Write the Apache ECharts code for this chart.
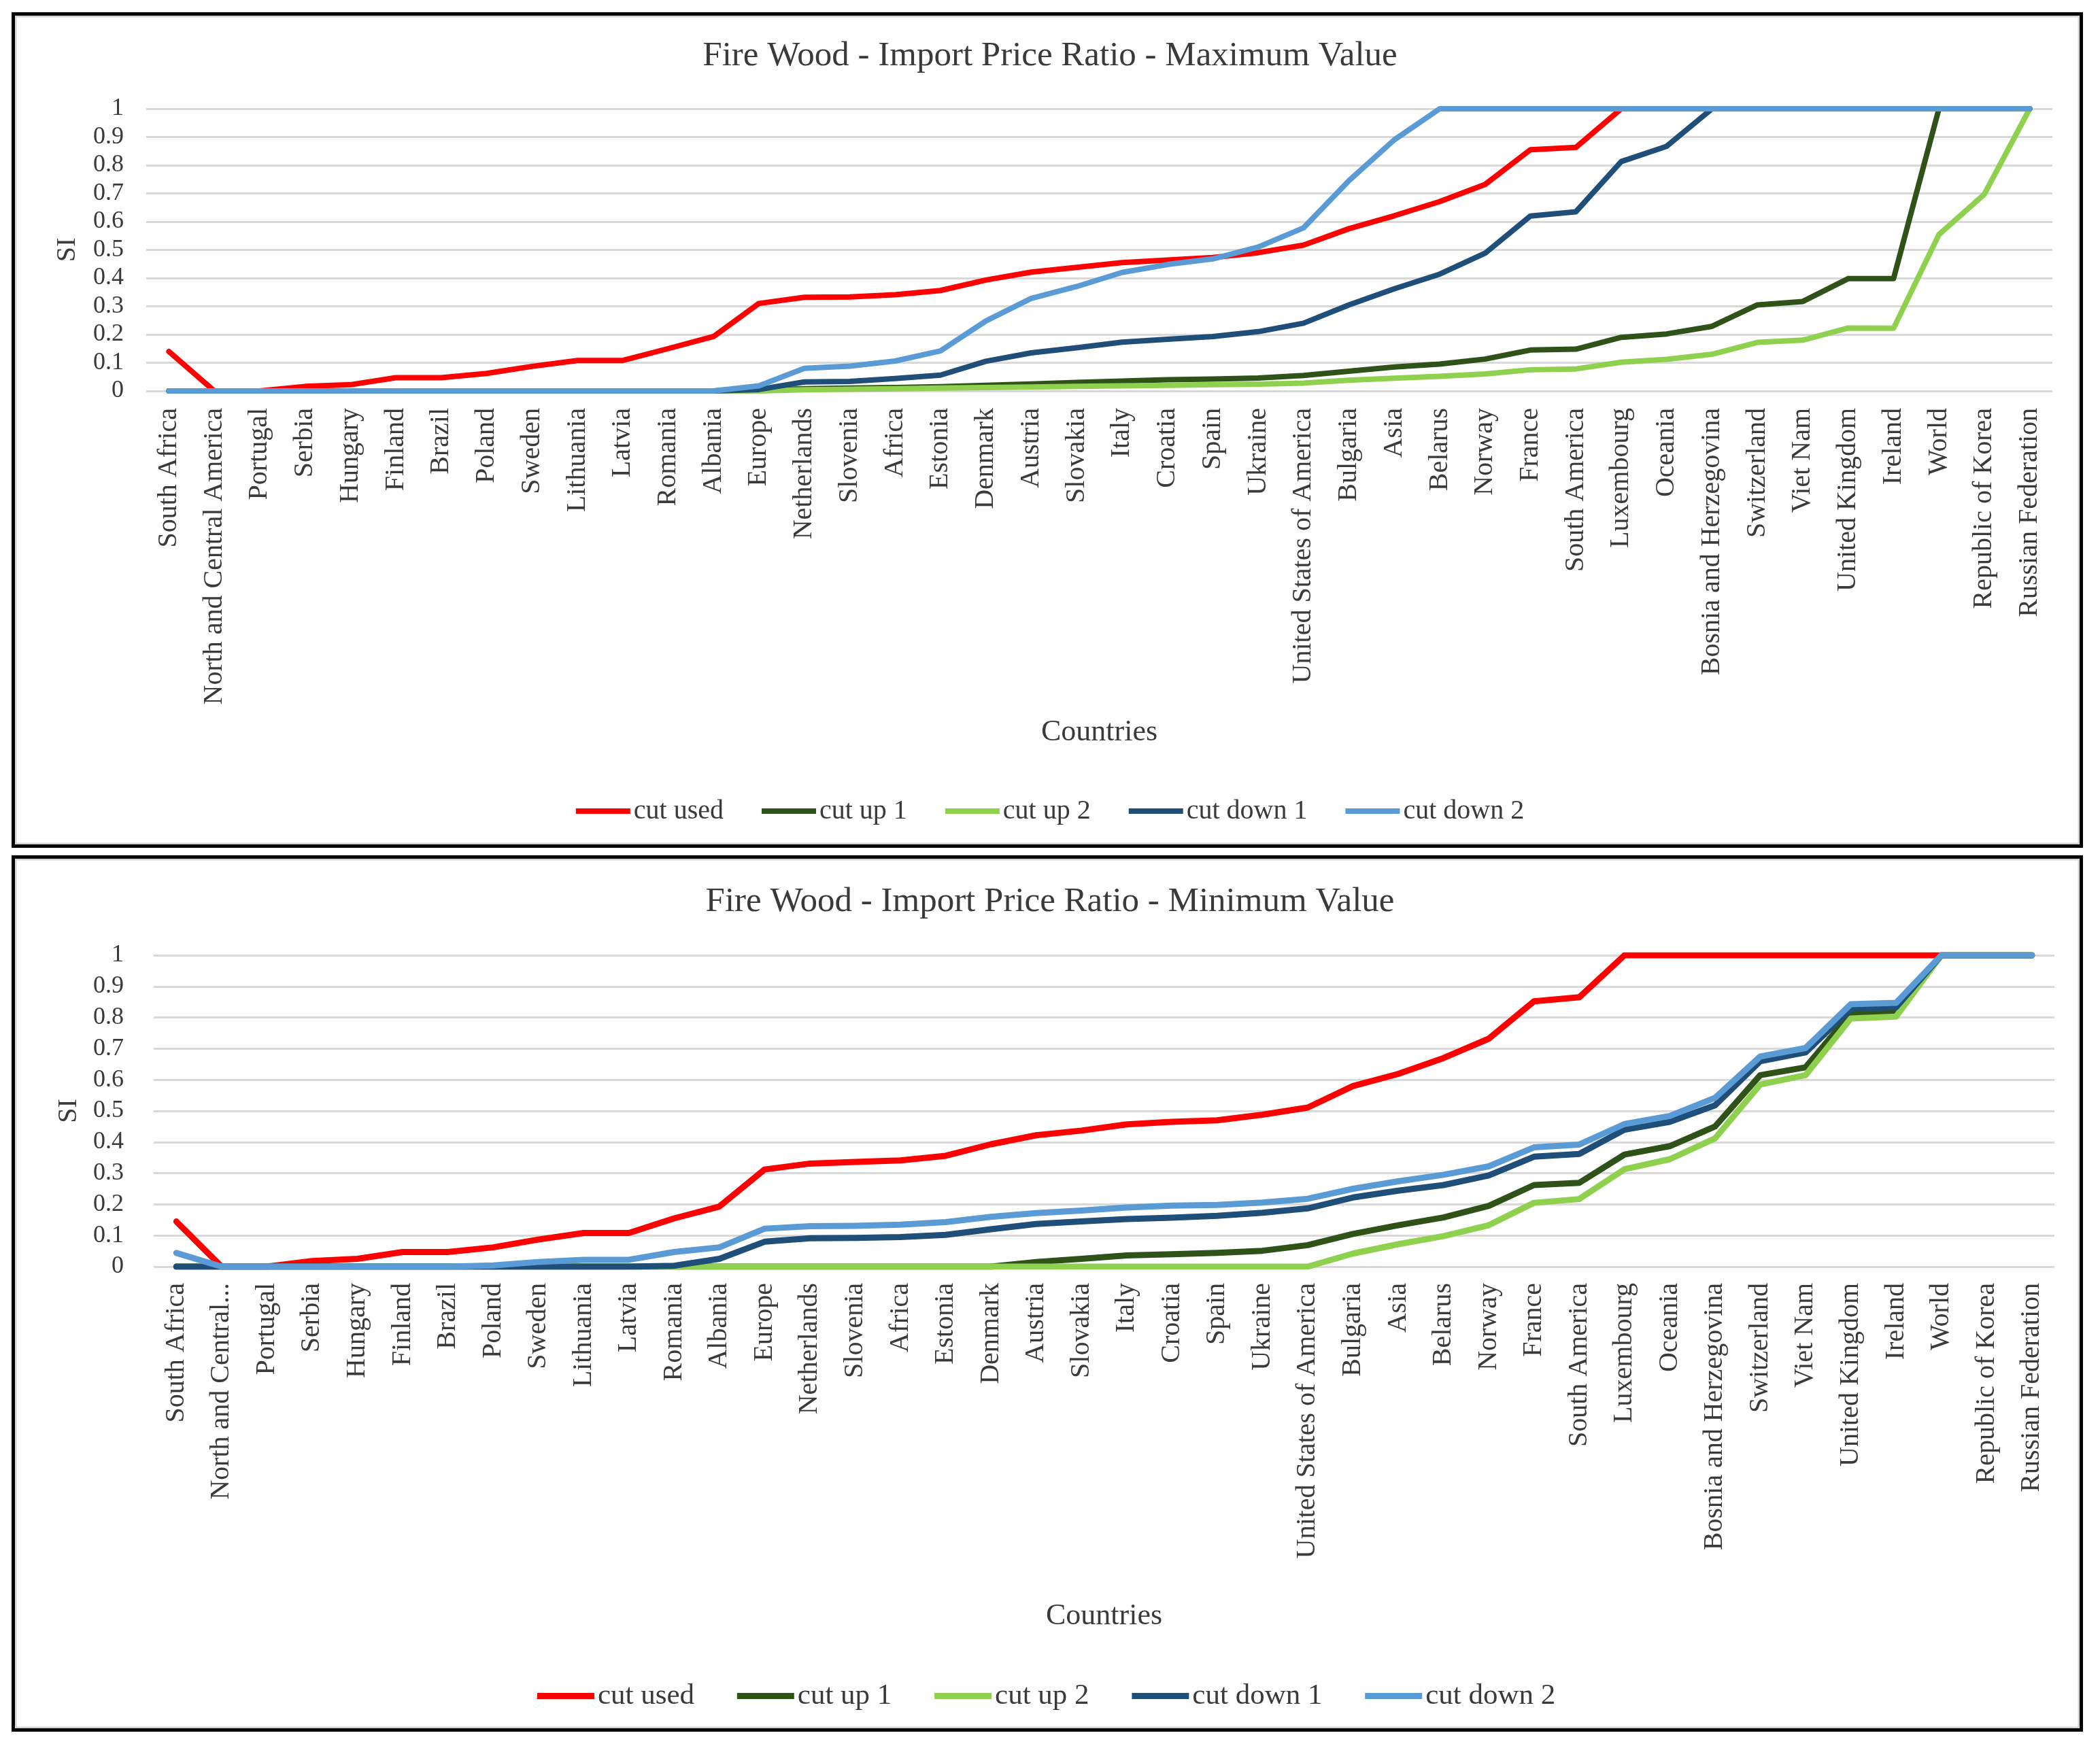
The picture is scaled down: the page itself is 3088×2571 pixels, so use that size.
<!DOCTYPE html>
<html>
<head>
<meta charset="utf-8">
<script src="https://cdn.jsdelivr.net/npm/echarts@6/dist/echarts.min.js"></script>
<style>
html,body{margin:0;padding:0;background:#fff;}
#c{width:3088px;height:2571px;}
</style>
</head>
<body>
<div id="c"></div>
<script>
// ---------- data ----------
const categories = ["South Africa","North and Central America","Portugal","Serbia","Hungary","Finland","Brazil","Poland","Sweden","Lithuania","Latvia","Romania","Albania","Europe","Netherlands","Slovenia","Africa","Estonia","Denmark","Austria","Slovakia","Italy","Croatia","Spain","Ukraine","United States of America","Bulgaria","Asia","Belarus","Norway","France","South America","Luxembourg","Oceania","Bosnia and Herzegovina","Switzerland","Viet Nam","United Kingdom","Ireland","World","Republic of Korea","Russian Federation"];
const bottomTickLabels = ["South Africa","North and Central...","Portugal","Serbia","Hungary","Finland","Brazil","Poland","Sweden","Lithuania","Latvia","Romania","Albania","Europe","Netherlands","Slovenia","Africa","Estonia","Denmark","Austria","Slovakia","Italy","Croatia","Spain","Ukraine","United States of America","Bulgaria","Asia","Belarus","Norway","France","South America","Luxembourg","Oceania","Bosnia and Herzegovina","Switzerland","Viet Nam","United Kingdom","Ireland","World","Republic of Korea","Russian Federation"];
const yTicks = [0,0.1,0.2,0.3,0.4,0.5,0.6,0.7,0.8,0.9,1];
const seriesNames = ["cut used","cut up 1","cut up 2","cut down 1","cut down 2"];
const titleMax = "Fire Wood - Import Price Ratio - Maximum Value";
const titleMin = "Fire Wood - Import Price Ratio - Minimum Value";

// Maximum value chart
const cutUsedMax  = [0.14,0,0,0.016,0.022,0.047,0.047,0.062,0.087,0.108,0.108,0.15,0.193,0.31,0.332,0.333,0.341,0.356,0.393,0.421,0.438,0.455,0.464,0.473,0.49,0.517,0.575,0.621,0.671,0.732,0.855,0.863,1,1,1,1,1,1,1,1,1,1];
const cutUp1Max   = [0,0,0,0,0,0,0,0,0,0,0,0,0,0.002,0.008,0.01,0.012,0.015,0.02,0.025,0.03,0.035,0.04,0.042,0.046,0.055,0.07,0.085,0.095,0.113,0.145,0.148,0.19,0.202,0.229,0.305,0.317,0.398,0.398,1,1,1];
const cutUp2Max   = [0,0,0,0,0,0,0,0,0,0,0,0,0,0,0.004,0.006,0.008,0.01,0.012,0.014,0.016,0.018,0.02,0.022,0.024,0.028,0.038,0.045,0.052,0.06,0.075,0.078,0.102,0.112,0.13,0.172,0.18,0.223,0.222,0.554,0.697,1];
const cutDown1Max = [0,0,0,0,0,0,0,0,0,0,0,0,0,0.005,0.032,0.034,0.044,0.056,0.105,0.135,0.153,0.173,0.183,0.193,0.21,0.24,0.305,0.362,0.414,0.488,0.62,0.635,0.813,0.867,1,1,1,1,1,1,1,1];
const cutDown2Max = [0,0,0,0,0,0,0,0,0,0,0,0,0,0.018,0.08,0.088,0.106,0.142,0.248,0.328,0.37,0.42,0.448,0.468,0.51,0.578,0.745,0.89,1,1,1,1,1,1,1,1,1,1,1,1,1,1];

// Minimum value chart
const cutUsedMin  = [0.145,0,0,0.018,0.025,0.047,0.047,0.062,0.087,0.108,0.108,0.155,0.193,0.312,0.331,0.336,0.341,0.356,0.393,0.422,0.437,0.457,0.465,0.47,0.488,0.511,0.58,0.619,0.67,0.732,0.852,0.865,1,1,1,1,1,1,1,1,1,1];
const cutUp1Min   = [0,0,0,0,0,0,0,0,0,0,0,0,0,0,0,0,0,0,0,0.015,0.025,0.036,0.04,0.044,0.051,0.069,0.105,0.133,0.158,0.195,0.262,0.269,0.36,0.387,0.45,0.615,0.64,0.813,0.818,1,1,1];
const cutUp2Min   = [0,0,0,0,0,0,0,0,0,0,0,0,0,0,0,0,0,0,0,0,0,0,0,0,0,0,0.042,0.072,0.098,0.133,0.205,0.217,0.313,0.345,0.412,0.585,0.615,0.797,0.803,1,1,1];
const cutDown1Min = [0,0,0,0,0,0,0,0,0,0,0,0.003,0.025,0.08,0.091,0.092,0.095,0.102,0.12,0.137,0.145,0.153,0.157,0.163,0.173,0.187,0.222,0.244,0.262,0.293,0.353,0.362,0.44,0.465,0.518,0.66,0.688,0.828,0.833,1,1,1];
const cutDown2Min = [0.044,0,0,0,0,0,0,0.004,0.015,0.022,0.022,0.047,0.062,0.122,0.13,0.131,0.135,0.143,0.16,0.172,0.18,0.19,0.196,0.198,0.206,0.218,0.25,0.274,0.295,0.322,0.383,0.392,0.458,0.484,0.542,0.675,0.702,0.843,0.847,1,1,1];

// ---------- styling ----------
const colors = ["#FF0000","#2F5218","#8FD14F","#1F4E79","#5B9BD5"];
const FONT = "Liberation Serif";
const TXT = "#3a3a3a";

const chart = echarts.init(document.getElementById('c'), null, {renderer:'canvas'});

function makeSeries(idx, dataArrs, lw, suffix){
  return dataArrs.map((d,i)=>({
    name: seriesNames[i] + suffix, type:'line', xAxisIndex: idx, yAxisIndex: idx,
    data: d, symbol:'none', smooth:false, color: colors[i],
    lineStyle:{width:lw, color:colors[i], cap:'round', join:'round'},
    z: 2+i
  }));
}

function xAxisCfg(idx, labels, gap, margin){
  return {
    type:'category', gridIndex: idx, data: categories, boundaryGap:true,
    axisLine:{show:false}, axisTick:{show:false},
    axisLabel:{rotate:90, interval:0, margin:margin, fontFamily:FONT, fontSize:40, color:TXT,
      formatter:(v,i)=>labels[i]},
    name:'Countries', nameLocation:'middle', nameGap:gap,
    nameTextStyle:{fontFamily:FONT, fontSize:44, color:TXT}
  };
}
function yAxisCfg(idx, gap, margin){
  return {
    type:'value', gridIndex: idx, min:yTicks[0], max:yTicks[yTicks.length-1], interval:0.1,
    axisLine:{show:false}, axisTick:{show:false},
    splitLine:{lineStyle:{color:'#d9d9d9', width:3}},
    axisLabel:{margin:margin, fontFamily:FONT, fontSize:36, color:TXT},
    name:'SI', nameLocation:'middle', nameRotate:90, nameGap:gap,
    nameTextStyle:{fontFamily:FONT, fontSize:40, color:TXT}
  };
}

const option = {
  backgroundColor:'#ffffff',
  animation:false,
  title:[
    {text:titleMax, left:'center', top:52, textStyle:{fontFamily:FONT, fontSize:51, fontWeight:'normal', color:TXT}},
    {text:titleMin, left:'center', top:1296, textStyle:{fontFamily:FONT, fontSize:51, fontWeight:'normal', color:TXT}}
  ],
  legend:[
    {data:seriesNames, left:'center', top:1168, icon:'rect', itemWidth:80, itemHeight:8, itemGap:56,
     textStyle:{fontFamily:FONT, fontSize:40, color:TXT}},
    {data:seriesNames.map(n=>n+' '), left:'center', top:2468, icon:'rect', itemWidth:84, itemHeight:9, itemGap:52,
     textStyle:{fontFamily:FONT, fontSize:43, color:TXT}}
  ],
  grid:[
    {left:215, right:70, top:160, height:415},
    {left:226, right:67, top:1405, height:458}
  ],
  xAxis:[ xAxisCfg(0, categories, 480, 25), xAxisCfg(1, bottomTickLabels, 492, 24) ],
  yAxis:[ yAxisCfg(0, 96, 33), yAxisCfg(1, 105, 44) ],
  series: [].concat(
    makeSeries(0,[cutUsedMax,cutUp1Max,cutUp2Max,cutDown1Max,cutDown2Max],8,''),
    makeSeries(1,[cutUsedMin,cutUp1Min,cutUp2Min,cutDown1Min,cutDown2Min],9,' ')
  ),
  graphic:[
    {type:'rect', shape:{x:23, y:24, width:3034, height:1217}, style:{fill:'none', stroke:'#d4d4d4', lineWidth:3}, z:100},
    {type:'rect', shape:{x:19.5, y:20.5, width:3041, height:1224}, style:{fill:'none', stroke:'#000', lineWidth:5}, z:101},
    {type:'rect', shape:{x:23, y:1264, width:3034, height:1277}, style:{fill:'none', stroke:'#d4d4d4', lineWidth:3}, z:100},
    {type:'rect', shape:{x:19.5, y:1260.5, width:3041, height:1284}, style:{fill:'none', stroke:'#000', lineWidth:5}, z:101}
  ]
};
chart.setOption(option);
</script>
</body>
</html>
